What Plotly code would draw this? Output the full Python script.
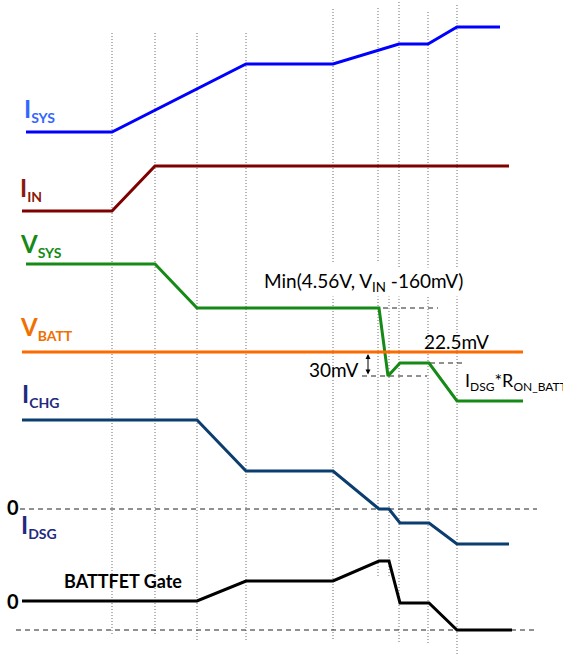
import plotly.graph_objects as go

# ---- timing data (time in arbitrary units, level in screen units, downwards) ----
t_isys = [26, 112, 246, 333, 399, 428, 457, 500]
isys = [132, 132, 64, 64, 44, 44, 27, 27]

t_iin = [22, 112, 155, 509]
iin = [211, 211, 166, 166]

t_vsys = [26, 155, 197, 379, 388, 400, 429, 457, 523]
vsys = [264, 264, 308, 308, 376, 363, 363, 401, 401]

t_vbatt = [22, 523]
vbatt = [352, 352]

t_ichg = [22, 197, 246, 333, 379, 389, 400, 429, 457, 509]
ichg = [420, 420, 471, 471, 509, 509, 523, 523, 544, 544]

t_gate = [22, 197, 246, 333, 379, 389, 400, 429, 457, 512]
gate = [601, 601, 581, 581, 561, 561, 603, 603, 630, 630]

# event instants marked by dotted guides: (time, top, bottom)
events = [
    (112, 33, 636), (155, 33, 636), (197, 33, 640), (246, 33, 640),
    (333, 9, 263), (333, 293, 640), (378, 8, 263), (378, 293, 577),
    (389, 293, 577), (399, 2, 643), (428, 12, 643), (457, 5, 656),
]

# dashed reference levels: (level, start, end)
refs = [(509, 20, 537), (630, 16, 537), (308, 320, 438), (376, 362, 427), (363, 430, 463)]

W, H = 563, 656
fig = go.Figure()

series = [
    (t_isys, isys, "#0000FF"),
    (t_iin, iin, "#7F0000"),
    (t_vsys, vsys, "#168A16"),
    (t_vbatt, vbatt, "#FF6A00"),
    (t_ichg, ichg, "#0B3D6E"),
    (t_gate, gate, "#000000"),
]
for t, v, c in series:
    fig.add_trace(go.Scatter(x=t, y=v, mode="lines", line=dict(color=c, width=3),
                             hoverinfo="skip", showlegend=False))

shapes = []
for t, y0, y1 in events:
    shapes.append(dict(type="line", x0=t, x1=t, y0=y0, y1=y1, layer="below",
                       line=dict(color="#6E6E6E", width=1, dash="1px,2px")))
for lvl, x0, x1 in refs:
    shapes.append(dict(type="line", x0=x0, x1=x1, y0=lvl, y1=lvl, layer="below",
                       line=dict(color="#222222", width=1, dash="5px,4px")))

FONT = "Lato"
annotations = []


def label(txt, x, y, color, size=24, sub=14, bold=True):
    main, s = txt
    text = f"{main}<sub><span style='font-size:{sub}px'>{s}</span></sub>"
    if bold:
        text = f"<b>{text}</b>"
    annotations.append(dict(x=x, y=y, text=text, showarrow=False, xanchor="left",
                            yanchor="middle", font=dict(family=FONT, size=size, color=color)))


label(("I", "SYS"), 22, 110, "#3366FF")
label(("I", "IN"), 18, 189, "#8B1A0A")
label(("V", "SYS"), 18, 245, "#168A16")
label(("V", "BATT"), 18, 328, "#F07000")
label(("I", "CHG"), 20, 395, "#1F2A80")
label(("I", "DSG"), 19, 526, "#1F2A80")

for y in (507, 601):
    annotations.append(dict(x=5, y=y, text="<b>0</b>", showarrow=False, xanchor="left",
                            yanchor="middle", font=dict(family=FONT, size=20, color="black")))

annotations.append(dict(x=62, y=581, text="<b>BATTFET Gate</b>", showarrow=False,
                        xanchor="left", yanchor="middle",
                        font=dict(family=FONT, size=18, color="black")))

annotations.append(dict(x=262, y=282, text="Min(4.56V, V<sub>IN</sub> -160mV)", showarrow=False,
                        xanchor="left", yanchor="middle", bgcolor="white",
                        font=dict(family=FONT, size=19, color="black")))
annotations.append(dict(x=422, y=341, text="22.5mV", showarrow=False,
                        xanchor="left", yanchor="middle",
                        font=dict(family=FONT, size=19, color="black")))
annotations.append(dict(x=307, y=369, text="30mV", showarrow=False,
                        xanchor="left", yanchor="middle",
                        font=dict(family=FONT, size=19, color="black")))
annotations.append(dict(
    x=463, y=381,
    text="I<sub><span style='font-size:12px'>DSG</span></sub>*R<sub><span style='font-size:12px'>ON_BATT</span></sub>",
    showarrow=False, xanchor="left", yanchor="middle",
    font=dict(family=FONT, size=18, color="black")))

# 30 mV dimension arrow
annotations.append(dict(x=368, y=354, ax=368, ay=376, axref="x", ayref="y", xref="x", yref="y",
                        text="", showarrow=True, arrowhead=2, arrowside="end+start",
                        arrowsize=1, arrowwidth=1, arrowcolor="black"))

fig.update_layout(
    width=W, height=H, margin=dict(l=0, r=0, t=0, b=0),
    paper_bgcolor="white", plot_bgcolor="white",
    xaxis=dict(range=[0, W], visible=False, fixedrange=True),
    yaxis=dict(range=[H, 0], visible=False, fixedrange=True),
    shapes=shapes, annotations=annotations,
)

fig.write_html("out.html")
